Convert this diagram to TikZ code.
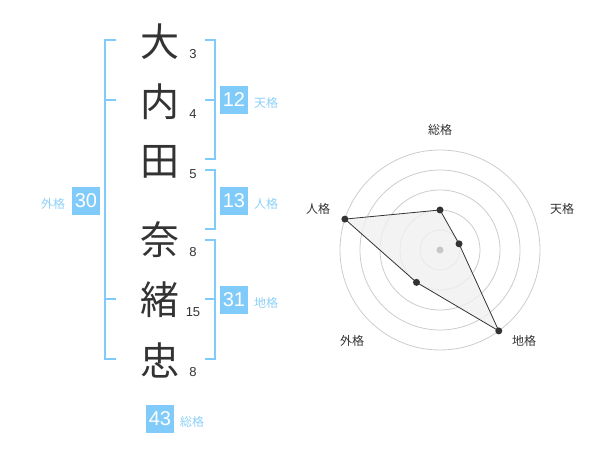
\documentclass[tikz,border=0pt]{standalone}
\usepackage{fontspec}
\setmainfont{Liberation Sans}
\newfontfamily\jp{Noto Sans CJK JP}
\definecolor{sky}{HTML}{80CBF9}
\definecolor{skytext}{HTML}{8DD0F8}
\definecolor{ink}{HTML}{333333}

\begin{document}
\begin{tikzpicture}[x=1pt,y=-1pt,
    kanji/.style={font=\jp\fontsize{39}{39}\selectfont,text=ink,inner sep=0},
    count/.style={font=\fontsize{13}{13}\selectfont,text=ink,inner sep=0},
    box/.style={fill=sky,text=white,minimum size=28pt,inner sep=0,font=\fontsize{20}{20}\selectfont},
    kaku/.style={font=\jp\fontsize{12}{12}\selectfont,text=skytext,inner sep=0},
    brace/.style={draw=sky,line width=2pt},
    ring/.style={draw=black!20,line width=0.8pt},
    dot/.style={circle,fill=ink,inner sep=0,minimum size=7pt},
    axis/.style={font=\jp\fontsize{12}{12}\selectfont,text=ink,inner sep=0}]
    \useasboundingbox (0,0) rectangle (600,470);

    % name and stroke counts
    \foreach \c/\y/\n/\k in {大/42/3/A, 内/102/4/B, 田/162/5/C, 奈/240/8/D, 緒/300/15/E, 忠/360/8/F}
    {
      \node[kanji] (\k) at (160,\y) {\c};
      \node[count] (n\k) at (193,\y+12) {\n};
    }

    % brackets
    \draw[brace] (116,40) -- (105,40) -- (105,359) -- (116,359);
    \draw[brace] (105,100) -- (116,100);
    \draw[brace] (105,299) -- (116,299);
    \draw[brace] (205,40) -- (215,40) -- (215,159) -- (205,159);
    \draw[brace] (215,100) -- (205,100);
    \draw[brace] (205,170) -- (215,170) -- (215,229) -- (205,229);
    \draw[brace] (205,240) -- (215,240) -- (215,359) -- (205,359);
    \draw[brace] (215,299) -- (205,299);

    % scores
    \node[box] (T) at (234,100) {12};
    \node[kaku] (t) at (266,103) {天格};
    \node[box] (J) at (234,201) {13};
    \node[kaku] (j) at (266,204) {人格};
    \node[box] (Ch) at (234,300) {31};
    \node[kaku] (ch) at (266,303) {地格};
    \node[box] (G) at (86,201) {30};
    \node[kaku] (g) at (53,204) {外格};
    \node[box] (S) at (160,419) {43};
    \node[kaku] (s) at (192,422) {総格};

    % radar
    \begin{scope}[shift={(440,250)},y=1pt]
      \foreach \r in {20,40,60,80,100}
        \draw[ring] (0,0) circle (\r);
      \coordinate (PS) at (90:40);
      \coordinate (PT) at (18:20);
      \coordinate (PC) at (-54:100);
      \coordinate (PG) at (-126:40);
      \coordinate (PJ) at (162:100);
      \fill[black!6,opacity=0.8] (PS) -- (PT) -- (PC) -- (PG) -- (PJ) -- cycle;
      \node[circle,fill=black!22,inner sep=0,minimum size=7pt] (O) at (0,0) {};
      \draw[ink,line width=0.8pt] (PS) -- (PT) -- (PC) -- (PG) -- (PJ) -- cycle;
      \foreach \p in {PS,PT,PC,PG,PJ}
        \node[dot] at (\p) {};
      \node[axis] (LS) at (0,120) {総格};
      \node[axis] (LT) at (122,41) {天格};
      \node[axis] (LC) at (84,-91) {地格};
      \node[axis] (LG) at (-88,-91) {外格};
      \node[axis] (LJ) at (-122,41) {人格};
    \end{scope}
\end{tikzpicture}
\end{document}
